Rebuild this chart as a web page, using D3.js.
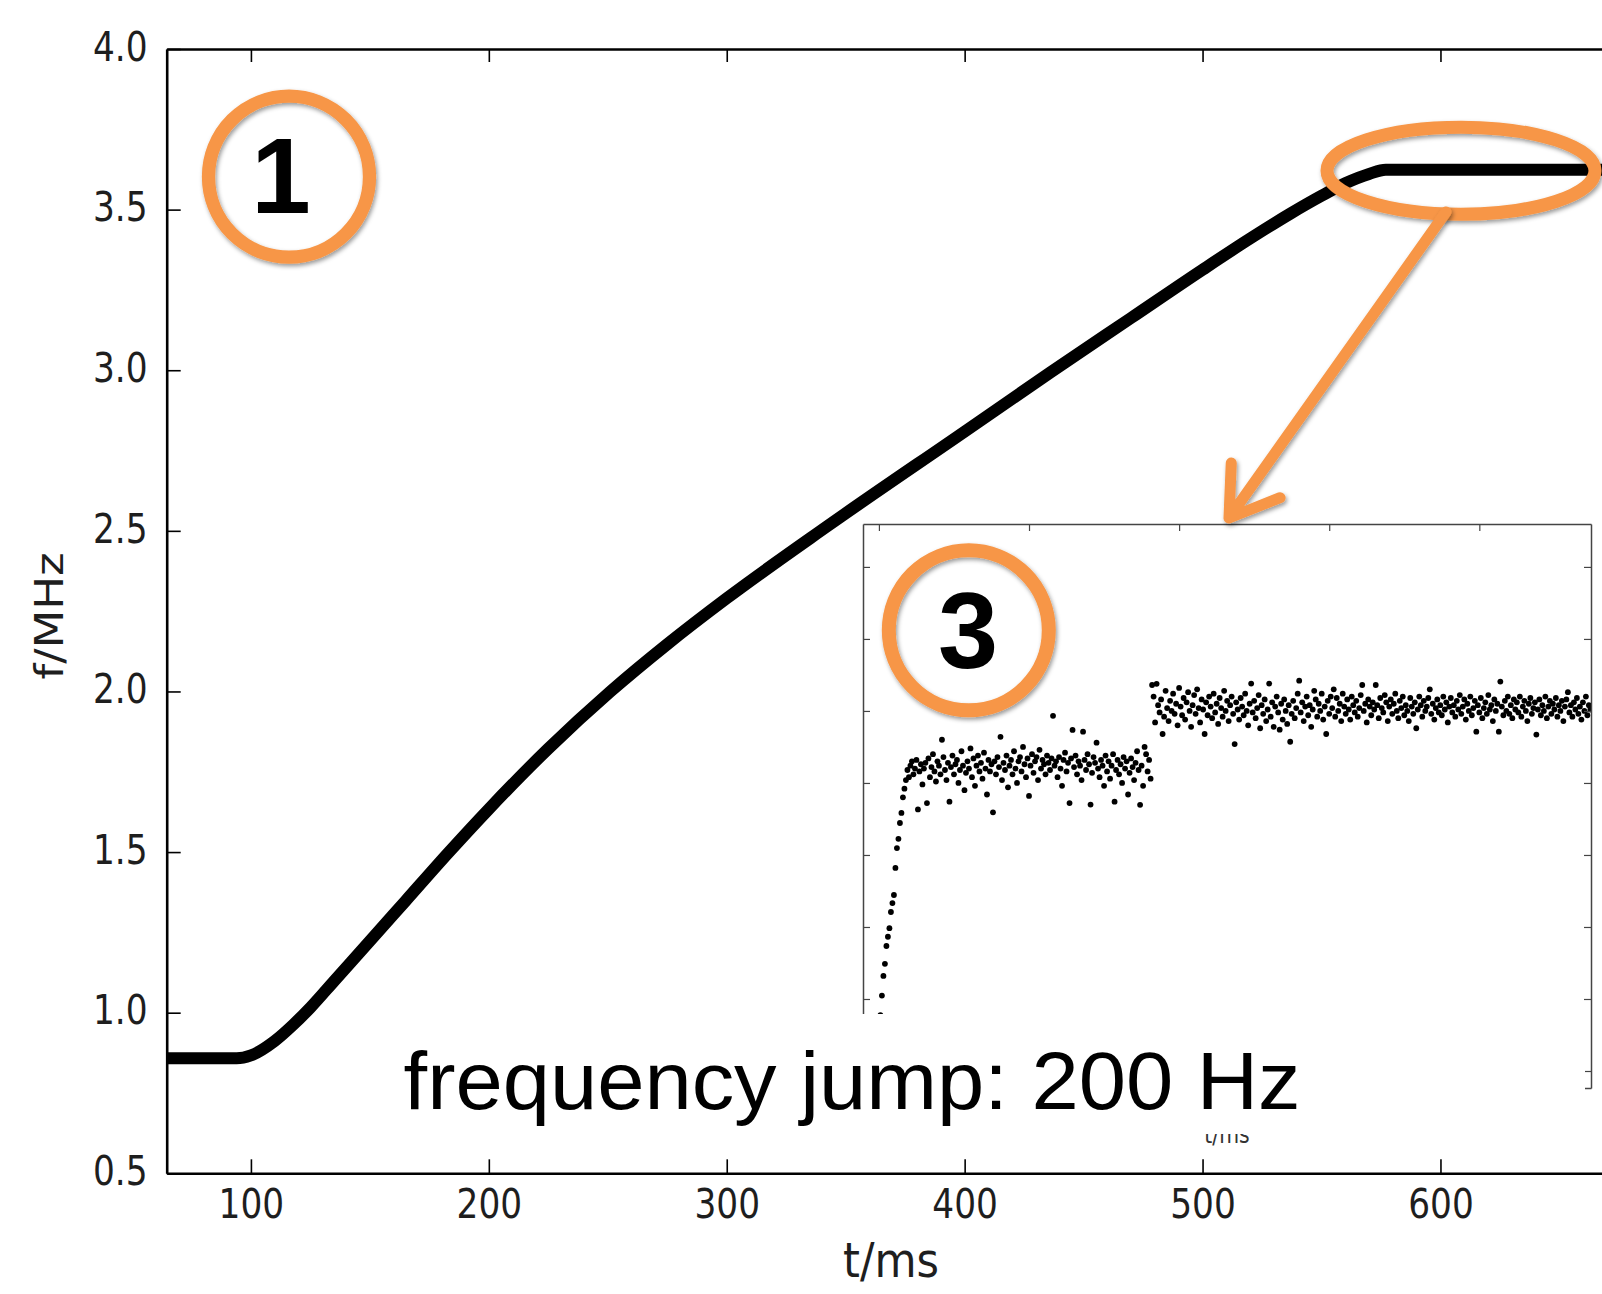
<!DOCTYPE html>
<html><head><meta charset="utf-8">
<script src="https://cdn.jsdelivr.net/npm/d3@7"></script>
<style>body{margin:0;background:#fff;} svg{display:block;}</style>
</head><body><svg id="c" width="1602" height="1294"></svg>
<script>
// ---------- main curve data ----------
const mainT = [65, 94, 100, 110, 118, 125, 135, 150, 165, 183, 200, 225, 251, 275, 300, 342, 400, 436, 470, 500, 520, 537, 550, 560, 570, 577, 668];
const mainF = [0.858, 0.858, 0.867, 0.912, 0.964, 1.016, 1.099, 1.223, 1.348, 1.498, 1.634, 1.822, 1.999, 2.147, 2.290, 2.513, 2.809, 2.993, 3.163, 3.313, 3.410, 3.488, 3.543, 3.582, 3.611, 3.624, 3.624];
const xTickVals = [100, 200, 300, 400, 500, 600];
const yTickVals = [0.5, 1.0, 1.5, 2.0, 2.5, 3.0, 3.5, 4.0];
const xLabel = "t/ms";
const yLabel = "f/MHz";

// ---------- inset scatter data (Hz, one sample every insetStep ms) ----------
const insetStep = 0.05;
const insetRise = [120, 194, 262, 330, 372, 434, 466, 496, 552, 583, 611, 705, 774, 806, 861, 896, 950];
const insetLow = [980,1010,1045,1020,1060,1075,1030,1050,1080,908,1040,1065,995,1050,1070,930,1085,1020,1055,1100,1040,1005,1075,1060,1030,1150,1090,1045,1010,1070,935,1055,1095,1030,1065,1080,1000,1045,1110,1060,975,1035,1075,1050,1120,1020,1085,990,1060,1095,1040,1070,1015,1105,1050,960,1080,1040,1065,898,1075,1030,1090,1055,1160,1010,1070,1045,1095,985,1060,1080,1030,1110,1050,1000,1075,1090,1040,1125,1065,1020,1085,955,1060,1100,1035,1075,1090,1010,1115,1050,1080,1065,1030,1095,1070,1045,1085,1233,1060,1075,1020,1090,1050,990,1080,1105,1040,1070,930,1085,1184,1055,1095,1030,1075,1060,1010,1178,1080,1045,1100,1065,925,1035,1090,1070,1140,1050,1020,1080,1060,990,1095,1040,1075,1015,1060,1100,935,1045,1080,1030,1065,1000,1090,1050,1075,960,1035,1085,1055,1010,1070,1110,1045,924,1060,990,1125,1100,1040,1080,1015];
const insetHigh = [1340,1300,1210,1344,1270,1245,1290,1170,1230,1320,1260,1215,1285,1250,1310,1240,1275,1200,1330,1265,1235,1295,1220,1280,1315,1250,1195,1270,1305,1240,1325,1260,1210,1290,1255,1170,1280,1235,1300,1265,1225,1310,1245,1275,1205,1295,1260,1230,1320,1250,1285,1215,1270,1300,1240,1135,1280,1255,1220,1295,1265,1235,1310,1250,1200,1275,1345,1245,1285,1225,1260,1305,1190,1270,1240,1290,1215,1255,1345,1230,1280,1195,1265,1300,1245,1185,1275,1220,1290,1250,1205,1270,1143,1240,1285,1225,1260,1310,1355,1245,1280,1215,1265,1300,1235,1270,1195,1255,1320,1290,1230,1275,1250,1310,1220,1265,1170,1285,1240,1300,1260,1325,1230,1295,1250,1275,1215,1310,1265,1240,1290,1255,1220,1300,1270,1245,1285,1230,1260,1305,1340,1250,1275,1210,1290,1265,1235,1280,1255,1340,1270,1225,1295,1260,1245,1305,1280,1215,1265,1290,1240,1275,1310,1250,1225,1285,1260,1300,1235,1270,1250,1215,1295,1265,1240,1280,1190,1255,1300,1270,1230,1285,1250,1265,1295,1325,1240,1275,1220,1260,1290,1245,1270,1235,1300,1255,1280,1210,1265,1295,1245,1270,1230,1285,1255,1305,1240,1265,1290,1220,1275,1250,1300,1235,1260,1285,1178,1270,1245,1295,1225,1260,1280,1240,1305,1255,1270,1215,1290,1250,1275,1178,1352,1265,1235,1285,1250,1300,1240,1270,1225,1290,1255,1280,1245,1300,1230,1265,1285,1250,1215,1275,1295,1240,1260,1280,1168,1255,1290,1235,1270,1250,1300,1225,1265,1285,1240,1275,1255,1295,1230,1270,1250,1285,1215,1265,1290,1315,1245,1270,1230,1280,1255,1295,1240,1265,1220,1280,1250,1300,1235,1270,1255];
const insetXTicks = [0, 5, 10, 15, 20];
const insetYTicks = [0, 250, 500, 750, 1000, 1250, 1500, 1750];
const insetXLabel = "t/ms";
const annoText = "frequency jump: 200 Hz";
const circleLabels = ["1", "3"];

const ORANGE = "#F79646";
const svg = d3.select("#c");
const defs = svg.append("defs");
const sh = defs.append("filter").attr("id","shadow").attr("x","-20%").attr("y","-20%").attr("width","140%").attr("height","140%");
sh.append("feDropShadow").attr("dx",1.5).attr("dy",2.5).attr("stdDeviation",2.2).attr("flood-color","#000").attr("flood-opacity",0.4);

// ---------- main scales ----------
const L = 166.7, R = 1602, T = 49, B = 1173.3;
const x = d3.scaleLinear().domain([64.6, 667.9]).range([L, R]);
const y = d3.scaleLinear().domain([0.5, 4.0]).range([B, T]);

defs.append("clipPath").attr("id","plotclip").append("rect")
  .attr("x", L).attr("y", T).attr("width", R - L).attr("height", B - T);

const tickFont = "'DejaVu Sans', sans-serif";

// main line
const mainData = mainT.map((t, i) => ({t, f: mainF[i]}));
svg.append("path").datum(mainData)
  .attr("clip-path","url(#plotclip)")
  .attr("fill","none").attr("stroke","#000").attr("stroke-width",12)
  .attr("stroke-linejoin","round")
  .attr("d", d3.line().x(d => x(d.t)).y(d => y(d.f)).curve(d3.curveMonotoneX));

// axes
function styleAxis(g) {
  g.attr("font-size", null).attr("font-family", null);
  g.select(".domain").attr("stroke","#000").attr("stroke-width",2.6);
  g.selectAll(".tick line").attr("stroke","#000").attr("stroke-width",1.6);
  g.selectAll(".tick text").attr("fill","#1e1e1e").attr("font-family", tickFont).attr("font-size", 40);
}
const gLeft = svg.append("g").attr("transform", `translate(${L},0)`)
  .call(d3.axisLeft(y).tickValues(yTickVals).tickFormat(d3.format(".1f")).tickSize(-14).tickSizeOuter(0));
styleAxis(gLeft);
gLeft.selectAll(".tick text").attr("x", 0).attr("dy", "0.28em").attr("transform", "translate(-19,0) scale(0.86,1)");

const gBottom = svg.append("g").attr("transform", `translate(0,${B})`)
  .call(d3.axisBottom(x).tickValues(xTickVals).tickFormat(d3.format("d")).tickSize(-14).tickSizeOuter(0));
styleAxis(gBottom);
gBottom.selectAll(".tick text").attr("y", 0).attr("dy", 0).attr("transform", "translate(0,45) scale(0.86,1)");

const gTop = svg.append("g").attr("transform", `translate(0,${T})`)
  .call(d3.axisTop(x).tickValues(xTickVals).tickFormat("").tickSize(-13).tickSizeOuter(0));
styleAxis(gTop);

// axis labels
svg.append("text").text(xLabel)
  .attr("transform", "translate(891,1277) scale(0.9,1)")
  .attr("text-anchor","middle").attr("font-family", tickFont).attr("font-size", 48).attr("fill","#1e1e1e");
svg.append("text").text(yLabel)
  .attr("transform", "translate(63,616) scale(0.86,1) rotate(-90)")
  .attr("text-anchor","middle").attr("font-family", tickFont).attr("font-size", 45).attr("fill","#1e1e1e");

// ---------- inset ----------
const iL = 863, iR = 1591, iT = 524, iB = 1088;
const ix = d3.scaleLinear().domain([-0.53, 23.72]).range([iL, iR]);
const iy = d3.scaleLinear().domain([-59, 1899]).range([iB, iT]);
const inset = svg.append("g");
inset.append("rect").attr("x", iL).attr("y", iT).attr("width", iR - iL).attr("height", iB - iT).attr("fill","#fff");
defs.append("clipPath").attr("id","insetclip").append("rect")
  .attr("x", iL).attr("y", iT).attr("width", iR - iL).attr("height", iB - iT);

const insetVals = insetRise.concat(insetLow, insetHigh);
const insetPts = insetVals.map((v, i) => ({t: i * insetStep, v}));
inset.append("g").attr("clip-path","url(#insetclip)")
  .selectAll("circle").data(insetPts).join("circle")
  .attr("cx", d => ix(d.t)).attr("cy", d => iy(d.v)).attr("r", 2.9).attr("fill","#000");

function styleInset(g) {
  g.attr("font-size", null).attr("font-family", null);
  g.select(".domain").attr("stroke","#444").attr("stroke-width",1.5);
  g.selectAll(".tick line").attr("stroke","#444").attr("stroke-width",1.2);
  g.selectAll(".tick text").remove();
}
inset.append("g").attr("transform", `translate(${iL},0)`).call(d3.axisLeft(iy).tickValues(insetYTicks).tickSize(-7).tickSizeOuter(0)).call(styleInset);
inset.append("g").attr("transform", `translate(${iR},0)`).call(d3.axisRight(iy).tickValues(insetYTicks).tickSize(-7).tickSizeOuter(0)).call(styleInset);
inset.append("g").attr("transform", `translate(0,${iT})`).call(d3.axisTop(ix).tickValues(insetXTicks).tickSize(-7).tickSizeOuter(0)).call(styleInset);
inset.append("g").attr("transform", `translate(0,${iB})`).call(d3.axisBottom(ix).tickValues(insetXTicks).tickSize(-7).tickSizeOuter(0)).call(styleInset);
inset.append("text").text(insetXLabel)
  .attr("transform", "translate(1227,1143) scale(0.85,1)")
  .attr("text-anchor","middle").attr("font-family", tickFont).attr("font-size", 24).attr("fill","#333");

// white cover box + annotation text
svg.append("rect").attr("x", 385).attr("y", 1014).attr("width", 1585 - 385).attr("height", 1134 - 1014).attr("fill","#fff");
svg.append("text").text(annoText)
  .attr("x", 403.6).attr("y", 1108.5)
  .attr("font-family", "'Liberation Sans', Arial, sans-serif").attr("font-size", 82)
  .attr("textLength", 897).attr("lengthAdjust", "spacingAndGlyphs").attr("fill","#000");

// ---------- orange annotations ----------
const ann = svg.append("g");
const circles = [
  {cx: 289, cy: 176.7, r: 80.5, sw: 13.3, label: circleLabels[0], tx: 281, ty: 213.3, fs: 107},
  {cx: 968.8, cy: 630.3, r: 80, sw: 14, label: circleLabels[1], tx: 968, ty: 667.5, fs: 108}
];
circles.forEach(c => {
  ann.append("circle").attr("cx", c.cx).attr("cy", c.cy).attr("r", c.r)
    .attr("fill","none").attr("stroke", ORANGE).attr("stroke-width", c.sw).attr("filter","url(#shadow)");
  ann.append("text").text(c.label).attr("x", c.tx).attr("y", c.ty)
    .attr("text-anchor","middle").attr("font-family","'Liberation Sans', Arial, sans-serif")
    .attr("font-weight","bold").attr("font-size", c.fs).attr("fill","#000");
});
ann.append("ellipse").attr("cx", 1461).attr("cy", 170.7).attr("rx", 134).attr("ry", 43.5)
  .attr("fill","none").attr("stroke", ORANGE).attr("stroke-width", 13).attr("filter","url(#shadow)");

const tail = [1446, 212], tip = [1229, 518];
const back = Math.atan2(tail[1] - tip[1], tail[0] - tip[0]);
const armLen = 55, armAng = 33 * Math.PI / 180;
const a1 = [tip[0] + armLen * Math.cos(back + armAng), tip[1] + armLen * Math.sin(back + armAng)];
const a2 = [tip[0] + armLen * Math.cos(back - armAng), tip[1] + armLen * Math.sin(back - armAng)];
ann.append("path")
  .attr("d", `M${tail[0]},${tail[1]}L${tip[0]},${tip[1]}M${a1[0]},${a1[1]}L${tip[0]},${tip[1]}L${a2[0]},${a2[1]}`)
  .attr("fill","none").attr("stroke", ORANGE).attr("stroke-width", 11)
  .attr("stroke-linecap","round").attr("stroke-linejoin","round").attr("filter","url(#shadow)");
</script>
</body></html>
